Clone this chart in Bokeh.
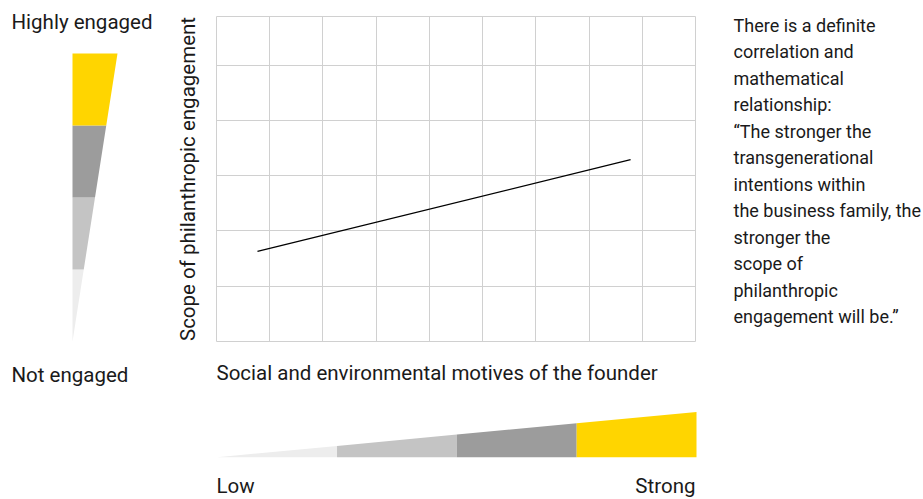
from bokeh.plotting import figure
from bokeh.layouts import row, column
from bokeh.models import Range1d, FixedTicker, Label
from bokeh.embed import file_html
from bokeh.resources import INLINE

# ---------------- data ----------------
motives_x = [0.77, 7.78]          # social/environmental motives (grid units)
scope_y = [1.63, 3.29]            # scope of philanthropic engagement (grid units)
x_grid_ticks = [0, 1, 2, 3, 4, 5, 6, 7, 8, 9]
y_grid_ticks = [0, 1, 2, 3, 4, 5]
x_max = 9
y_max = 5.88

scale_steps = [0, 1, 2, 3, 4]     # boundaries of the four intensity bands
scale_colors = ["#ededed", "#c4c4c4", "#9c9c9c", "#ffd500"]

y_label = "Scope of philanthropic engagement"
x_label = "Social and environmental motives of the founder"
top_label = "Highly engaged"
bottom_label = "Not engaged"
low_label = "Low"
strong_label = "Strong"
note_lines = [
    "There is a definite",
    "correlation and",
    "mathematical",
    "relationship:",
    "\u201cThe stronger the",
    "transgenerational",
    "intentions within",
    "the business family, the",
    "stronger the",
    "scope of",
    "philanthropic",
    "engagement will be.\u201d",
]

FONT = "Roboto"
BIG = "20.5px"
NOTE = "18px"
TXT = "#1a1a1a"
GRIDC = "#d0d0d0"
BIG_SHIFT = 8.5     # rendered text sits this much below the requested baseline
NOTE_SHIFT = 6.5


def blank(w, h, xr, yr):
    f = figure(width=w, height=h, x_range=xr, y_range=yr, output_backend="svg",
               toolbar_location=None, min_border=0)
    f.axis.visible = False
    f.grid.visible = False
    f.outline_line_color = None
    f.frame_align = False
    return f


def lbl(x, y, text, size, align="left", baseline="alphabetic"):
    return Label(x=x, y=y, text=text, text_font=FONT, text_font_size=size,
                 text_color=TXT, text_align=align, text_baseline=baseline)


n = len(scale_colors)
top = scale_steps[-1]

# ---------------- left vertical scale ----------------
LW, LH = 170, 499
l_left, l_width, l_bottom, l_step = 72, 45, 341, 72
ldx = lambda px: (px - l_left) / l_width
ldy = lambda py: (l_bottom - py) / l_step
left = blank(LW, LH, Range1d(ldx(0), ldx(LW)), Range1d(ldy(LH), ldy(0)))
xs, ys = [], []
for i in range(n):
    a, b = scale_steps[i], scale_steps[i + 1]
    xs.append([0, a / top, b / top, 0])
    ys.append([a, a, b, b])
left.patches(xs, ys, fill_color=scale_colors, line_color=None)
left.add_layout(lbl(ldx(11), ldy(30 - BIG_SHIFT), top_label, BIG))
left.add_layout(lbl(ldx(11), ldy(382.5 - BIG_SHIFT), bottom_label, BIG))

# ---------------- main chart ----------------
p = figure(width=550, height=350, x_range=Range1d(0, x_max), y_range=Range1d(0, y_max),
           output_backend="svg", toolbar_location=None,
           min_border_left=46, min_border_right=25, min_border_top=16, min_border_bottom=9)
p.frame_align = False
p.xaxis.visible = False
p.yaxis.ticker = FixedTicker(ticks=[])          # no tick labels on the axis itself
p.yaxis.axis_label = y_label
p.yaxis.axis_label_text_font = FONT
p.yaxis.axis_label_text_font_size = BIG
p.yaxis.axis_label_text_font_style = "normal"
p.yaxis.axis_label_text_color = TXT
p.yaxis.axis_label_standoff = 17
p.yaxis.major_label_standoff = 0
p.yaxis.major_tick_line_color = None
p.yaxis.minor_tick_line_color = None
p.yaxis.major_tick_out = 0
p.yaxis.major_tick_in = 0
p.yaxis.axis_line_color = None
p.xgrid.ticker = FixedTicker(ticks=x_grid_ticks)
p.ygrid.ticker = FixedTicker(ticks=y_grid_ticks)
p.grid.grid_line_color = GRIDC
p.grid.grid_line_width = 1
p.outline_line_color = GRIDC
p.outline_line_width = 1
p.line(motives_x, scope_y, line_color="#000000", line_width=1.3)

# ---------------- bottom horizontal scale ----------------
BW, BH = 550, 149
b_left, b_width, b_bottom, b_height = 46.7, 479.3, 106.7, 45.3
bdx = lambda px: (px - b_left) / b_width
bdy = lambda py: (b_bottom - py) / b_height
bottom = blank(BW, BH, Range1d(bdx(0), bdx(BW)), Range1d(bdy(BH), bdy(0)))
xs, ys = [], []
for i in range(n):
    a, b = scale_steps[i] / top, scale_steps[i + 1] / top
    xs.append([a, a, b, b])
    ys.append([0, a, b, 0])
bottom.patches(xs, ys, fill_color=scale_colors, line_color=None)
bottom.add_layout(lbl(bdx(46), bdy(31 - BIG_SHIFT), x_label, BIG))
bottom.add_layout(lbl(bdx(46), bdy(144 - BIG_SHIFT), low_label, BIG))
bottom.add_layout(lbl(bdx(525), bdy(144 - BIG_SHIFT), strong_label, BIG, align="right"))

# ---------------- right note ----------------
RW, RH = 203, 499
right = blank(RW, RH, Range1d(0, RW), Range1d(0, RH))
for i, line in enumerate(note_lines):
    right.add_layout(lbl(13, RH - (31 - NOTE_SHIFT + 26.5 * i), line, NOTE))

layout = row(left, column(p, bottom), right)
open("out.html", "w").write(file_html(layout, INLINE))
